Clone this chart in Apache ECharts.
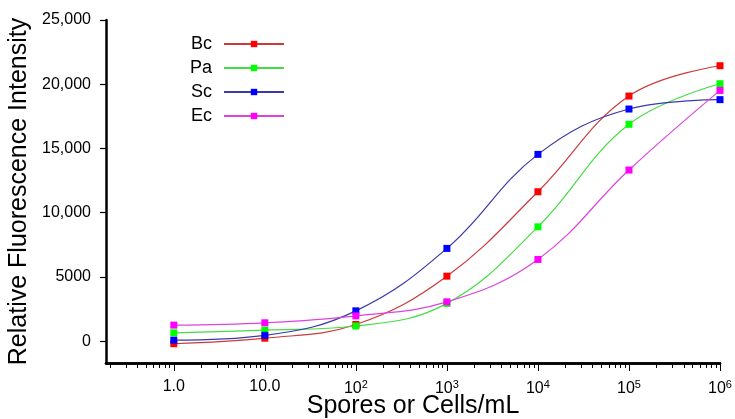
<!DOCTYPE html>
<html><head><meta charset="utf-8">
<script src="https://cdn.jsdelivr.net/npm/echarts@6/dist/echarts.min.js"></script>
<style>html,body{margin:0;padding:0;background:#fff}#c{width:735px;height:419px}</style>
</head><body><div id="c"></div>
<script>
var concentrations = [1, 10, 100, 1000, 10000, 100000, 1000000];
var bc = [-200, 230, 1300, 5060, 11630, 19080, 21440];
var pa = [650, 860, 1180, 2940, 8900, 16880, 20040];
var sc = [80, 450, 2360, 7220, 14540, 18070, 18800];
var ec = [1250, 1430, 1970, 3060, 6360, 13320, 19520];
var seriesNames = ['Bc', 'Pa', 'Sc', 'Ec'];
var xTickValues = [1, 10, 100, 1000, 10000, 100000, 1000000];
var xTickLabels = ['1.0', '10.0', '10^2', '10^3', '10^4', '10^5', '10^6'];
var yTickValues = [0, 5000, 10000, 15000, 20000, 25000];
var yTickLabels = ['0', '5000', '10,000', '15,000', '20,000', '25,000'];

var minorTicks = [];
for (var e = -1; e < 6; e++) {
  for (var m = 2; m <= 9; m++) {
    var v = m * Math.pow(10, e);
    if (v > 0.18) minorTicks.push(v);
  }
}
function pairs(ys) { return concentrations.map(function (x, i) { return [x, ys[i]]; }); }
var FONT = 'Liberation Sans, Arial, sans-serif';
var colorsMarker = ['#ff0000', '#00ff00', '#0000ff', '#ff00ff'];
var colorsLine = ['#cc3a3a', '#44dd44', '#3a3aaa', '#dd44dd'];
var allData = [bc, pa, sc, ec];

var chart = echarts.init(document.getElementById('c'));
function xBase() {
  return {
    type: 'log', logBase: 10, min: 0.18, max: 1000000, position: 'bottom', offset: 0,
    splitLine: { show: false },
    axisLine: { show: true, onZero: false, lineStyle: { color: '#000', width: 2.5 } }
  };
}
chart.setOption({
  animation: false,
  backgroundColor: '#fff',
  grid: { left: 106, right: 15, top: 20, bottom: 56, containLabel: false, outerBoundsMode: 'none' },
  legend: {
    left: 185, top: 30, orient: 'vertical', align: 'right',
    itemWidth: 60, itemHeight: 8, itemGap: 6,
    data: seriesNames,
    textStyle: { fontFamily: FONT, fontSize: 18, color: '#000', padding: [0, 7, 0, 0] }
  },
  xAxis: [
    Object.assign(xBase(), {
      name: 'Spores or Cells/mL', nameLocation: 'middle', nameGap: 31,
      nameTextStyle: { fontFamily: FONT, fontSize: 25, color: '#000' },
      axisTick: { show: true, length: 5, lineStyle: { color: '#000', width: 1 }, customValues: minorTicks },
      axisLabel: { show: false }
    }),
    Object.assign(xBase(), {
      axisTick: { show: true, length: 8, lineStyle: { color: '#000', width: 1 }, customValues: xTickValues },
      axisLabel: {
        show: true, customValues: xTickValues, margin: 16,
        fontFamily: FONT, fontSize: 16, color: '#000',
        formatter: function (v) {
          var i = xTickValues.indexOf(Math.round(v));
          if (i < 0) return '';
          var t = xTickLabels[i];
          if (t.indexOf('^') >= 0) { var p = t.split('^'); return '{b|' + p[0] + '}{s|' + p[1] + '}'; }
          return '{b|' + t + '}';
        },
        rich: {
          b: { fontFamily: FONT, fontSize: 16, color: '#000' },
          s: { fontFamily: FONT, fontSize: 11, color: '#000', verticalAlign: 'bottom', padding: [0, 0, 9, 0] }
        }
      }
    })
  ],
  yAxis: {
    type: 'value', min: -1700, max: 25000,
    name: 'Relative Fluorescence Intensity', nameLocation: 'middle', nameGap: 74,
    nameTextStyle: { fontFamily: FONT, fontSize: 25, color: '#000' },
    splitLine: { show: false },
    axisLine: { show: true, onZero: false, lineStyle: { color: '#000', width: 2.5 } },
    axisTick: { show: true, length: 6, lineStyle: { color: '#000', width: 1.2 }, customValues: yTickValues },
    axisLabel: {
      customValues: yTickValues, margin: 15, fontFamily: FONT, fontSize: 16, color: '#000',
      formatter: function (v) { var i = yTickValues.indexOf(v); return i < 0 ? '' : yTickLabels[i]; }
    }
  },
  series: seriesNames.map(function (n, i) {
    return {
      name: n, type: 'line', xAxisIndex: 1, data: pairs(allData[i]),
      smooth: 0.4, symbol: 'rect', symbolSize: 7,
      lineStyle: { color: colorsLine[i], width: 1.2 },
      itemStyle: { color: colorsMarker[i] }
    };
  })
});
</script></body></html>
